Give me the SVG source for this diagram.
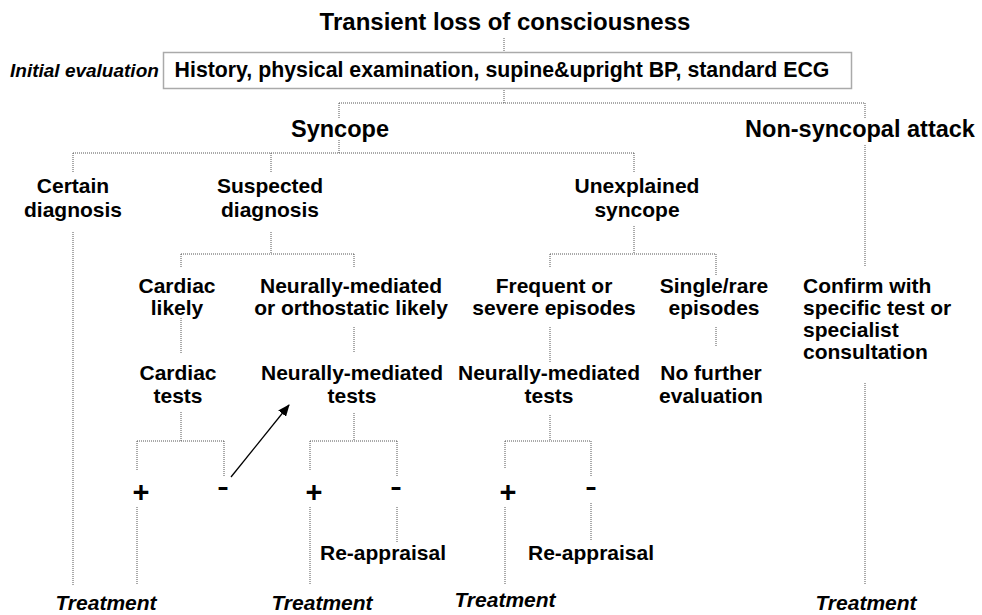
<svg xmlns="http://www.w3.org/2000/svg" width="982" height="615" viewBox="0 0 982 615">
<style>
text{font-family:"Liberation Sans",Arial,sans-serif;font-weight:bold;fill:#000;text-anchor:middle;font-size:21px}
.it{font-style:italic}
.big{font-size:23.5px}
.title{font-size:24px}
.st{text-anchor:start}
.plus{font-size:29px}
.minus{font-size:36px;font-weight:normal}
.dot{fill:none;stroke:#555;stroke-width:1;stroke-dasharray:1,1}
</style>
<defs>
<marker id="ah" markerWidth="12" markerHeight="10" refX="11" refY="5" orient="auto" markerUnits="userSpaceOnUse">
<path d="M0,0 L12,5 L0,10 Z" fill="#000"/>
</marker>
</defs>
<rect width="982" height="615" fill="#fff"/>
<g id="connectors">
<path class="dot" d="M504,38V52 M504,88V103 M339,103H865 M339,103V118 M865,103V118 M339,140V153 M73,153H634 M73,153V173 M271,153V173 M634,153V173 M865,145V267 M73,232V585 M271,232V254 M181,254H354 M181,254V267 M354,254V267 M634,226V254 M550,254H716 M550,254V267 M716,254V276 M181,318V353 M354,327V353 M550,327V362 M716,327V346 M181,412V441 M137,441H224 M137,441V470 M224,441V477 M354,413V441 M310,441H397 M310,441V470 M397,441V477 M550,415V441 M505,441H591 M505,441V468 M591,441V477 M137,507V585 M310,507V585 M397,507V542 M505,507V585 M591,503V540 M865,383V585"/>
<line x1="231" y1="477" x2="289" y2="405" stroke="#000" stroke-width="1.3" marker-end="url(#ah)"/>
</g>
<g id="title"><text class="title" x="505" y="30">Transient loss of consciousness</text></g>
<g id="initial-label"><text class="it st" x="10" y="77" style="font-size:19px">Initial evaluation</text></g>
<g id="initial-box">
<rect x="163.5" y="52.5" width="688" height="36" fill="#fff" stroke="#aaa" stroke-width="1.5"/>
<text x="502" y="77" style="font-size:21.3px">History, physical examination, supine&amp;upright BP, standard ECG</text>
</g>
<g id="syncope"><text class="big" x="340" y="137">Syncope</text></g>
<g id="non-syncopal"><text class="big" x="860" y="137">Non-syncopal attack</text></g>
<g id="certain"><text x="73" y="193">Certain</text><text x="73" y="217">diagnosis</text></g>
<g id="suspected"><text x="270" y="193">Suspected</text><text x="270" y="217">diagnosis</text></g>
<g id="unexplained"><text x="637" y="193">Unexplained</text><text x="637" y="217">syncope</text></g>
<g id="cardiac-likely"><text x="177" y="293">Cardiac</text><text x="177" y="315">likely</text></g>
<g id="nm-likely"><text x="351" y="293">Neurally-mediated</text><text x="351" y="315">or orthostatic likely</text></g>
<g id="frequent"><text x="554" y="293">Frequent or</text><text x="554" y="315">severe episodes</text></g>
<g id="single"><text x="714" y="293">Single/rare</text><text x="714" y="315">episodes</text></g>
<g id="confirm"><text class="st" x="803" y="293">Confirm with</text><text class="st" x="803" y="315">specific test or</text><text class="st" x="803" y="337">specialist</text><text class="st" x="803" y="359">consultation</text></g>
<g id="cardiac-tests"><text x="178" y="380">Cardiac</text><text x="178" y="403">tests</text></g>
<g id="nm-tests-1"><text x="352" y="380">Neurally-mediated</text><text x="352" y="403">tests</text></g>
<g id="nm-tests-2"><text x="549" y="380">Neurally-mediated</text><text x="549" y="403">tests</text></g>
<g id="no-further"><text x="711" y="380">No further</text><text x="711" y="403">evaluation</text></g>
<g id="plus-1"><text class="plus" x="141" y="502">+</text></g>
<g id="minus-1"><text class="minus" x="223" y="498">-</text></g>
<g id="plus-2"><text class="plus" x="314" y="502">+</text></g>
<g id="minus-2"><text class="minus" x="396" y="498">-</text></g>
<g id="plus-3"><text class="plus" x="508" y="502">+</text></g>
<g id="minus-3"><text class="minus" x="591" y="498">-</text></g>
<g id="reappraisal-1"><text x="383" y="560">Re-appraisal</text></g>
<g id="reappraisal-2"><text x="591" y="560">Re-appraisal</text></g>
<g id="treatment-1"><text class="it" x="106" y="610">Treatment</text></g>
<g id="treatment-2"><text class="it" x="322" y="610">Treatment</text></g>
<g id="treatment-3"><text class="it" x="505" y="607">Treatment</text></g>
<g id="treatment-4"><text class="it" x="866" y="610">Treatment</text></g>
</svg>
